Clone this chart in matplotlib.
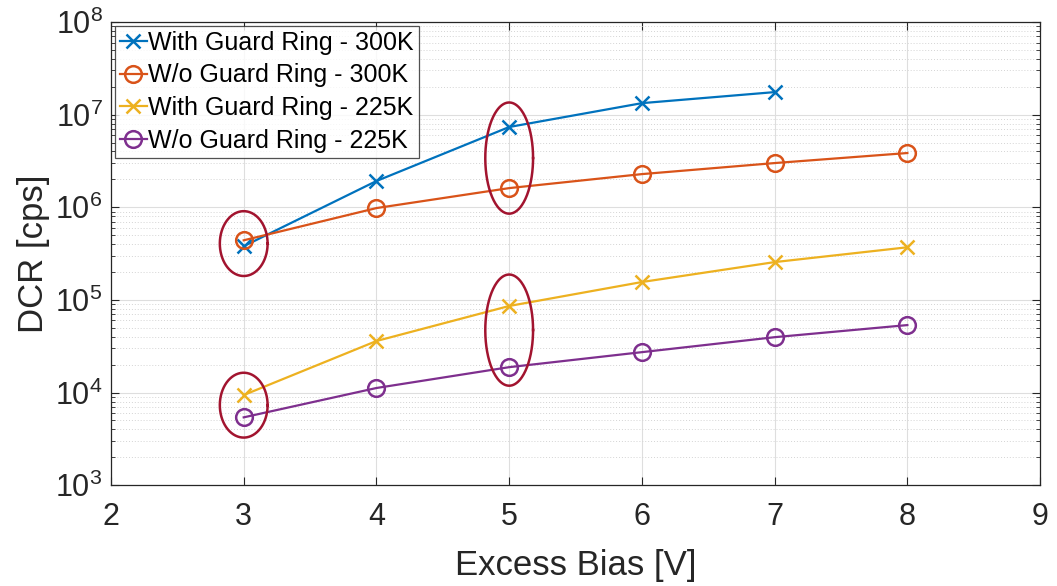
import numpy as np
import matplotlib.pyplot as plt
from matplotlib.ticker import LogLocator, NullFormatter

plt.rcParams["font.family"] = ["Liberation Sans", "DejaVu Sans"]
plt.rcParams["mathtext.fontset"] = "custom"
plt.rcParams["mathtext.rm"] = "Liberation Sans"
plt.rcParams["mathtext.it"] = "Liberation Sans:italic"

# excess bias [V]
bias = [3, 4, 5, 6, 7, 8]

# dark count rate [cps]
gr_300 = [3.8e5, 1.92e6, 7.35e6, 1.33e7, 1.75e7]
nogr_300 = [4.4e5, 9.8e5, 1.61e6, 2.28e6, 3.0e6, 3.85e6]
gr_225 = [9.4e3, 3.6e4, 8.6e4, 1.56e5, 2.56e5, 3.7e5]
nogr_225 = [5.4e3, 1.12e4, 1.88e4, 2.73e4, 3.96e4, 5.35e4]

labels = [
    "With Guard Ring - 300K",
    "W/o Guard Ring - 300K",
    "With Guard Ring - 225K",
    "W/o Guard Ring - 225K",
]
colors = ["#0072BD", "#D95319", "#EDB120", "#7E2F8E"]

# highlight ellipses: centre x, centre (log10 cps), half width [V], half height [decades]
ell_x = [3, 3, 5, 5]
ell_logy = [5.608, 3.864, 6.531, 4.674]
ell_w = [0.18, 0.18, 0.18, 0.18]
ell_h = [0.35, 0.35, 0.60, 0.60]

fig = plt.figure(figsize=(10.57, 5.86), dpi=100)
ax = fig.add_axes([0.105, 0.172, 0.879, 0.7905])

series = [gr_300, nogr_300, gr_225, nogr_225]
markers = ["x", "o", "x", "o"]
for ys, lab, c, m in zip(series, labels, colors, markers):
    ax.plot(bias[:len(ys)], ys, color=c, lw=1.6, marker=m,
            markersize=12 if m == "o" else 10, markeredgewidth=1.8,
            markerfacecolor="none", label=lab)

t = np.linspace(0, 2 * np.pi, 200)
for cx, cy, a, b in zip(ell_x, ell_logy, ell_w, ell_h):
    ax.plot(cx + a * np.cos(t), 10 ** (cy + b * np.sin(t)),
            color="#A2142F", lw=1.8, zorder=5)

ax.set_yscale("log")
ax.set_xlim(2, 9)
ax.set_ylim(1e3, 1e8)
ax.set_xticks(range(2, 10))
ax.yaxis.set_major_locator(LogLocator(base=10, numticks=10))
ax.yaxis.set_minor_locator(LogLocator(base=10, subs=np.arange(2, 10), numticks=20))
ax.yaxis.set_minor_formatter(NullFormatter())

ax.grid(True, which="major", color="#dedede", lw=0.8)
ax.grid(True, which="minor", axis="y", color="#d4d4d4", lw=0.7, ls=(0, (1, 2)))
ax.set_axisbelow(True)

ax.tick_params(which="both", direction="in", top=True, right=True,
               labelsize=22, colors="#262626")
ax.tick_params(which="major", length=6)
ax.tick_params(which="minor", length=3)
ax.tick_params(axis="y", which="major", pad=6)
ax.tick_params(axis="x", which="major", pad=12)
for s in ax.spines.values():
    s.set_color("#262626")
    s.set_linewidth(0.9)

ax.set_xlabel("Excess Bias [V]", fontsize=25, color="#262626", labelpad=12)
ax.set_ylabel("DCR [cps]", fontsize=25, color="#262626", labelpad=4)

leg = ax.legend(loc="upper left", fontsize=18, frameon=True, fancybox=False,
                borderpad=0.2, labelspacing=0.35, handlelength=1.1,
                handletextpad=0.05, borderaxespad=0.15)
leg.get_frame().set_edgecolor("#262626")
leg.get_frame().set_linewidth(0.9)

fig.savefig("out.png", dpi=100)
